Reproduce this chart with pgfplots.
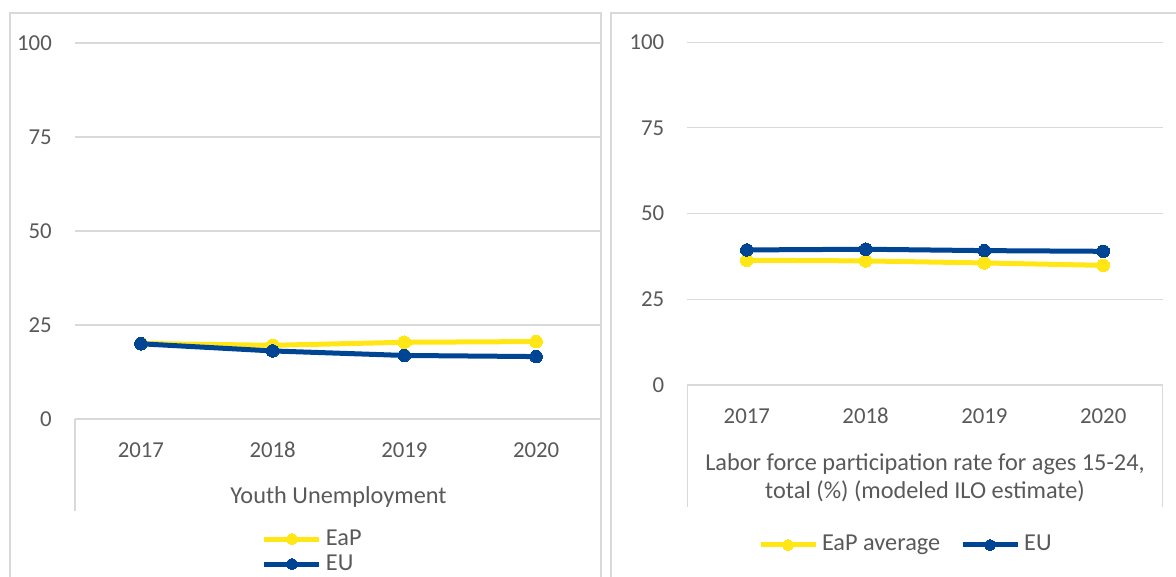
\documentclass[border=0pt]{standalone}
\usepackage{pgfplots}
\pgfplotsset{compat=1.18}
\usepackage{fontspec}
\setmainfont{Carlito}
\definecolor{eapY}{RGB}{255,230,20}
\definecolor{euB}{RGB}{0,68,148}
\definecolor{gridG}{RGB}{217,217,217}
\definecolor{txtG}{RGB}{89,89,89}
\pgfplotsset{
  panel/.style={
    scale only axis,
    anchor=south west,
    xmin=-0.5, xmax=3.5, ymin=0, ymax=100,
    xtick={0,1,2,3}, xticklabels={2017,2018,2019,2020},
    ytick={0,25,50,75,100},
    axis x line*=bottom, axis y line*=left,
    x axis line style={gridG, line width=1.2pt, -},
    y axis line style={draw=none},
    major tick length=0pt,
    ymajorgrids, grid style={gridG, line width=1.2pt},
    /pgf/number format/assume math mode=true,
    tick label style={font=\fontsize{22.8}{27}\selectfont, text=txtG, inner sep=0pt},
    yticklabel style={anchor=east, xshift=-23pt},
    xticklabel style={anchor=center, yshift=-31pt},
    label style={font=\fontsize{24.3}{28}\selectfont, text=txtG},
    clip=false,
    legend style={draw=none, fill=none, inner sep=0pt, outer sep=0pt,
      font=\fontsize{24.3}{27}\selectfont, text=txtG,
      nodes={inner sep=0pt, text height=17pt, text depth=5pt}},
    legend cell align=left,
    legend image code/.code={\draw[mark repeat=2, mark phase=2, mark size=5.5pt, ##1] plot coordinates {(0pt,0pt) (27.5pt,0pt) (55pt,0pt)};},
  },
  eap/.style={color=eapY, line width=5pt, mark=*, mark size=6.3pt, mark options={line width=0pt}},
  eu/.style={color=euB, line width=5pt, mark=*, mark size=6.3pt, mark options={line width=0pt}},
}
\begin{document}
\begin{tikzpicture}
\clip (0pt,0pt) rectangle (1176pt,576pt);
% panel borders
\draw[gridG, line width=1.2pt] (10pt,-5pt) -- (10pt,563pt) -- (601pt,563pt) -- (601pt,-5pt);
\draw[gridG, line width=1.2pt] (611pt,-5pt) -- (611pt,563pt) -- (1180pt,563pt);
% category-axis boundary lines
\draw[gridG, line width=1.2pt] (75pt,157pt) -- (75pt,65pt);
\draw[gridG, line width=1.2pt] (687.4pt,191pt) -- (687.4pt,69pt);
\draw[gridG, line width=1.2pt] (1162.6pt,191pt) -- (1162.6pt,69pt);

\begin{axis}[panel, at={(75pt,157pt)}, width=527pt, height=376pt,
  xlabel={Youth Unemployment},
  xlabel style={at={(axis description cs:0.5,0)}, anchor=center, yshift=-78pt},
  legend columns=1,
  legend style={at={(rel axis cs:0.3548,-0.3524)}, anchor=west, row sep=3pt,
    /tikz/every odd column/.append style={column sep=4pt}},
]
\addplot[eap] coordinates {(0,20.1) (1,19.6) (2,20.4) (3,20.6)};
\addlegendentry{EaP}
\addplot[eu] coordinates {(0,20.0) (1,18.1) (2,16.9) (3,16.6)};
\addlegendentry{EU}
\end{axis}

\begin{axis}[panel, at={(687.4pt,191pt)}, width=475.2pt, height=342.8pt,
  xlabel={Labor force participation rate for ages 15-24,\\ total (\%) (modeled ILO estimate)},
  xlabel style={at={(axis description cs:0.5,0)}, anchor=center, yshift=-92.5pt, align=center},
  legend columns=2,
  legend style={at={(rel axis cs:0.1486,-0.4667)}, anchor=west,
    /tikz/every odd column/.append style={column sep=4pt},
    /tikz/every even column/.append style={column sep=20pt}},
]
\addplot[eap] coordinates {(0,36.4) (1,36.2) (2,35.6) (3,34.9)};
\addlegendentry{EaP average}
\addplot[eu] coordinates {(0,39.4) (1,39.6) (2,39.2) (3,39.0)};
\addlegendentry{EU}
\end{axis}
\end{tikzpicture}
\end{document}
